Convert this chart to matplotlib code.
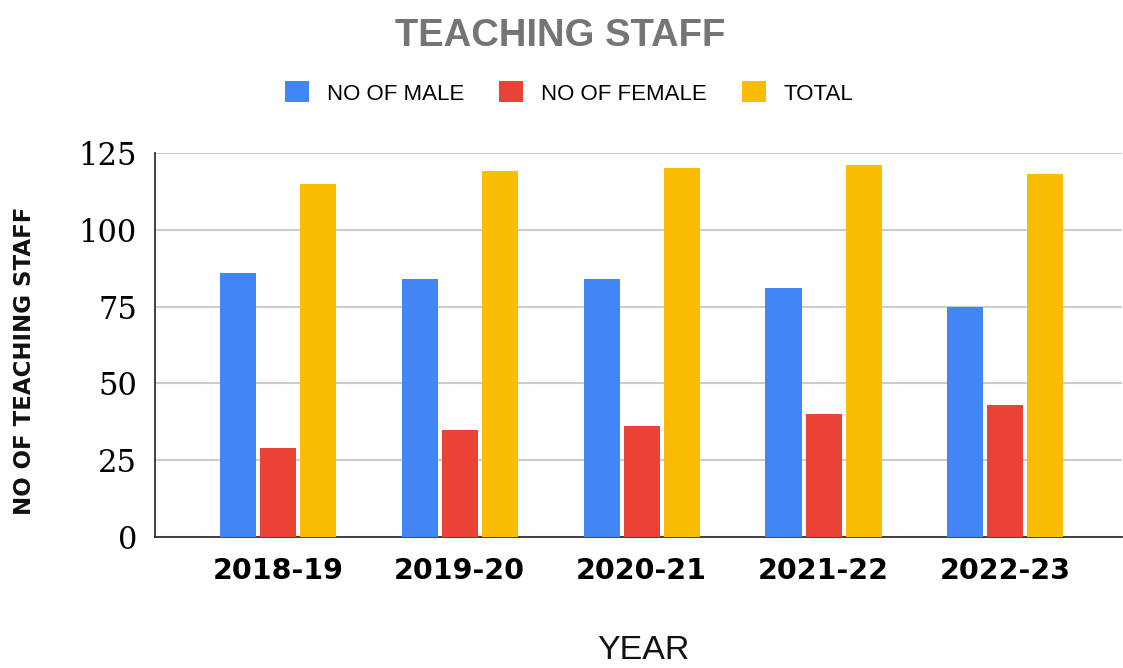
import numpy as np
import matplotlib
matplotlib.use('Agg')
import matplotlib.pyplot as plt
from matplotlib.patches import Patch

# Data
years = ['2018-19', '2019-20', '2020-21', '2021-22', '2022-23']
male = [86, 84, 84, 81, 75]
female = [29, 35, 36, 40, 43]
total = [115, 119, 120, 121, 118]

series_names = ['NO OF MALE', 'NO OF FEMALE', 'TOTAL']
colors = ['#4285F4', '#EA4335', '#FBBC04']

fig = plt.figure(figsize=(11.23, 6.68), dpi=100)
ax = fig.add_axes([0.138, 0.196, 0.861, 0.575])

x = np.arange(len(years))
width = 0.198
step = 0.22
for i, vals in enumerate([male, female, total]):
    ax.bar(x + (i - 1) * step, vals, width, color=colors[i], zorder=3)

ax.set_xlim(-0.675, 4.64)
ax.set_ylim(0, 125)
ax.set_yticks([0, 25, 50, 75, 100, 125])
ax.set_xticks(x)
ax.set_xticklabels(years, fontfamily='DejaVu Sans', fontweight='bold', fontsize=20.5)
for lbl in ax.get_yticklabels():
    lbl.set_fontfamily('DejaVu Serif')
    lbl.set_fontsize(22)
ax.tick_params(axis='both', length=0)
ax.tick_params(axis='y', pad=13)
ax.tick_params(axis='x', pad=14)

ax.grid(axis='y', color='#cccccc', linewidth=1.5, zorder=0)
for s in ['top', 'right']:
    ax.spines[s].set_visible(False)
ax.spines['left'].set_color('#333333')
ax.spines['bottom'].set_color('#333333')
ax.spines['left'].set_linewidth(1.3)
ax.spines['bottom'].set_linewidth(1.3)

# title, legend, axis labels
fig.text(0.499, 1 - 36 / 668, 'TEACHING STAFF', ha='center', va='center',
         fontfamily='Liberation Sans', fontweight='bold', fontsize=27.5, color='#757575')

handles = [Patch(facecolor=c, edgecolor='none') for c in colors]
fig.legend(handles, series_names, loc='center', bbox_to_anchor=(0.507, 1 - 93 / 668),
           ncol=3, frameon=False, prop={'family': 'Liberation Sans', 'size': 16},
           handlelength=1.07, handleheight=1.07, handletextpad=0.8, columnspacing=1.6)

fig.text(0.022, 1 - 361 / 668, 'NO OF TEACHING STAFF', rotation=90, ha='center', va='center',
         fontfamily='DejaVu Sans', fontweight='bold', fontsize=16.5, color='#111111')
fig.text(0.573, 0.003, 'YEAR', ha='center', va='bottom',
         fontfamily='Liberation Sans', fontsize=24.5, color='#111111')

fig.savefig('out.png', dpi=100)
